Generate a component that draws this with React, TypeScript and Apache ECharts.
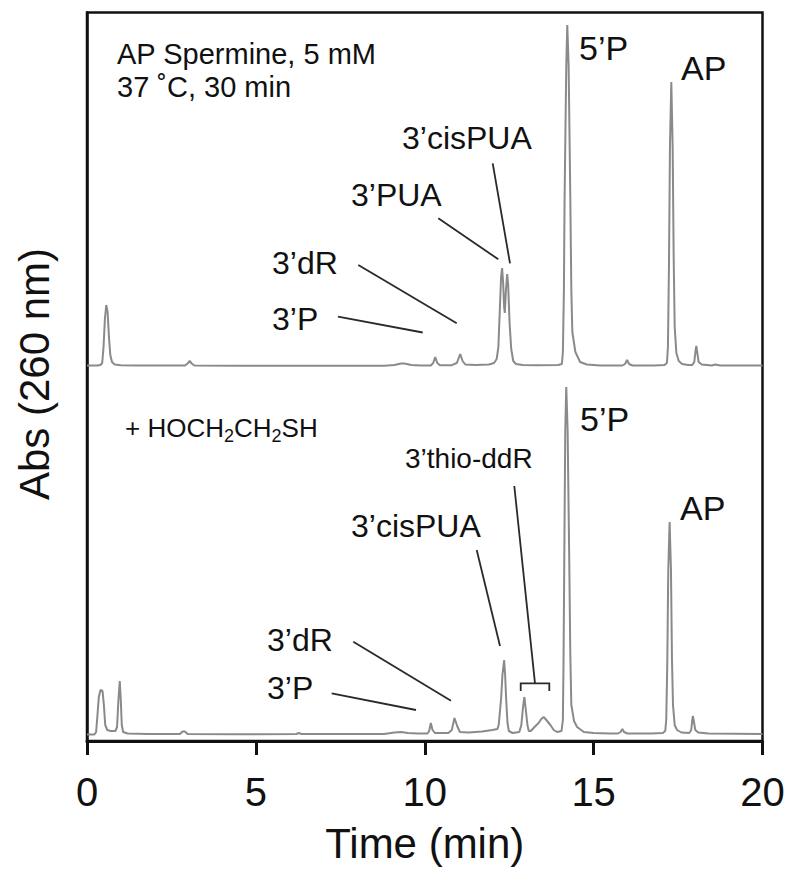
import React, { useEffect, useRef } from "react";
import * as echarts from "echarts";

// Time axis (min)
const timeMin = 0;
const timeMax = 20;
const timeInterval = 5;

// Top chromatogram: AP Spermine, 5 mM, 37 °C, 30 min  [time (min), absorbance (a.u.)]
const topTrace: [number, number][] = [
  [0, 1.5], [0.3, 1.5], [0.4, 2], [0.45, 4], [0.49, 20], [0.53, 48], [0.57, 62], [0.61, 55],
  [0.65, 30], [0.69, 12], [0.74, 5], [0.82, 2.5], [1.0, 1.8], [1.5, 1.5], [2.9, 1.5],
  [2.98, 3.5], [3.04, 6], [3.1, 3.5], [3.18, 1.5], [4.5, 1.2], [6, 1.2], [7.5, 1.2], [8.8, 1.3],
  [9.1, 2], [9.3, 3.5], [9.4, 3.5], [9.6, 2], [9.9, 1.5], [10.18, 1.5], [10.25, 4], [10.31, 10],
  [10.37, 4], [10.45, 1.8], [10.8, 1.8], [10.95, 4], [11.05, 13], [11.12, 6], [11.2, 2.5],
  [11.5, 2], [11.9, 2.5], [12.05, 4], [12.13, 8], [12.18, 20], [12.22, 55], [12.26, 90],
  [12.29, 99], [12.32, 85], [12.35, 60], [12.37, 54], [12.4, 75], [12.44, 93], [12.47, 82],
  [12.51, 45], [12.56, 18], [12.62, 6], [12.7, 3], [12.9, 2], [13.3, 1.8], [13.95, 2],
  [14.06, 3], [14.09, 15], [14.12, 77], [14.14, 168], [14.19, 301], [14.22, 342], [14.26, 301],
  [14.31, 168], [14.34, 77], [14.37, 35], [14.46, 15], [14.6, 5], [14.8, 2.5], [15.2, 1.5],
  [15.85, 1.5], [15.93, 3], [15.99, 7], [16.05, 3], [16.15, 1.5], [16.8, 1.5], [17.1, 2],
  [17.17, 4], [17.2, 20], [17.23, 100], [17.26, 220], [17.3, 285], [17.34, 220], [17.37, 110],
  [17.4, 40], [17.45, 14], [17.52, 6], [17.62, 3], [17.8, 2], [17.92, 2], [17.98, 5],
  [18.02, 17], [18.04, 21], [18.07, 14], [18.11, 5], [18.2, 2.5], [18.5, 1.5], [18.6, 2.5],
  [18.75, 1.5], [20, 1.5],
];

// Bottom chromatogram: + HOCH2CH2SH  [time (min), absorbance (a.u.)]
const bottomTrace: [number, number][] = [
  [0, 0.5], [0.22, 0.5], [0.27, 3], [0.31, 20], [0.35, 38], [0.4, 45], [0.46, 44], [0.5, 30],
  [0.54, 10], [0.6, 5], [0.7, 4], [0.84, 4], [0.89, 8], [0.93, 35], [0.97, 54], [1.0, 35],
  [1.03, 10], [1.07, 3], [1.2, 1.5], [1.8, 1], [2.75, 1], [2.83, 3.5], [2.9, 3.5], [2.98, 1],
  [4.5, 0.8], [6.2, 1], [6.27, 2], [6.35, 1], [8.8, 1], [9.1, 2.5], [9.3, 3], [9.5, 2],
  [9.8, 1.5], [10.08, 1.5], [10.13, 4], [10.18, 12], [10.23, 5], [10.3, 2], [10.7, 2],
  [10.8, 5], [10.88, 17], [10.96, 9], [11.04, 3], [11.3, 2.5], [11.7, 3.5], [12.0, 5],
  [12.15, 6], [12.19, 10], [12.26, 36], [12.3, 60], [12.35, 75], [12.38, 60], [12.41, 36],
  [12.45, 12], [12.49, 4], [12.6, 2], [12.8, 3], [12.86, 10], [12.91, 28], [12.95, 38],
  [12.99, 26], [13.04, 10], [13.08, 4], [13.14, 4], [13.25, 8], [13.37, 12], [13.45, 16],
  [13.52, 18], [13.6, 15], [13.72, 10], [13.82, 5], [13.92, 3], [14.05, 4], [14.09, 15],
  [14.11, 77], [14.13, 170], [14.16, 305], [14.19, 348], [14.23, 305], [14.28, 170],
  [14.31, 80], [14.34, 30], [14.42, 14], [14.51, 8], [14.71, 3], [15.0, 2], [15.5, 1.5],
  [15.72, 1.5], [15.8, 3], [15.85, 6], [15.9, 3], [16.0, 1.5], [16.7, 1.5], [17.05, 2],
  [17.12, 4], [17.15, 15], [17.18, 70], [17.21, 165], [17.25, 213], [17.29, 165], [17.32, 75],
  [17.35, 30], [17.4, 10], [17.47, 5], [17.6, 2.5], [17.83, 2], [17.89, 5], [17.92, 15],
  [17.94, 19], [17.97, 13], [18.01, 5], [18.1, 2.5], [18.4, 1.5], [20, 1],
];

// Panel annotation texts
const topConditions = ["AP Spermine, 5 mM", "37 ˚C, 30 min"];
const topPeakLabels = ["5’P", "AP", "3’cisPUA", "3’PUA", "3’dR", "3’P"];
const bottomPeakLabels = ["5’P", "AP", "3’thio-ddR", "3’cisPUA", "3’dR", "3’P"];
// "+ HOCH₂CH₂SH" as [text, isSubscript] pieces
const bottomCondition: [string, boolean][] = [
  ["+ HOCH", false], ["2", true], ["CH", false], ["2", true], ["SH", false],
];
const xAxisTitle = "Time (min)";
const yAxisTitle = "Abs (260 nm)";

const FONT = '"Liberation Sans", Arial, Helvetica, sans-serif';
const INK = "#111";
const LEAD = "#2a2a2a";
const TRACE = "#8a8a8a";

function txt(text: string, x: number, y: number, size: number, align = "left") {
  return {
    type: "text",
    x,
    y,
    silent: true,
    style: {
      text,
      font: `${size}px ${FONT}`,
      fill: INK,
      textAlign: align,
      textVerticalAlign: "middle",
      align,
      verticalAlign: "middle",
    },
  };
}

function lead(x1: number, y1: number, x2: number, y2: number) {
  return {
    type: "line",
    silent: true,
    shape: { x1, y1, x2, y2 },
    style: { stroke: LEAD, lineWidth: 1.8 },
  };
}

function formulaTexts(pieces: [string, boolean][], x0: number, y: number, size: number, subSize: number, subDrop: number) {
  const canvas = document.createElement("canvas");
  const ctx = canvas.getContext("2d");
  const out: any[] = [];
  let x = x0;
  for (const [s, sub] of pieces) {
    const fs = sub ? subSize : size;
    out.push(txt(s, x, sub ? y + subDrop : y, fs));
    let w = s.length * fs * 0.6;
    if (ctx) {
      ctx.font = `${fs}px ${FONT}`;
      w = ctx.measureText(s).width;
    }
    x += w;
  }
  return out;
}

export default function App() {
  const ref = useRef<HTMLDivElement>(null);

  useEffect(() => {
    document.body.style.margin = "0";
    if (!ref.current) return;
    const chart = echarts.init(ref.current, undefined, { renderer: "svg" });

    const left = 87;
    const right = 26.5;

    const graphic: any[] = [
      // axis title (vertical)
      {
        type: "text",
        x: 34,
        y: 374,
        rotation: Math.PI / 2,
        silent: true,
        style: {
          text: yAxisTitle,
          font: `42px ${FONT}`,
          fill: INK,
          textAlign: "center",
          textVerticalAlign: "middle",
          align: "center",
          verticalAlign: "middle",
        },
      },
      // top panel
      txt(topConditions[0], 117, 54, 29),
      txt(topConditions[1], 117, 87, 29),
      txt(topPeakLabels[0], 579, 47.5, 34),
      txt(topPeakLabels[1], 681, 67.5, 34),
      txt(topPeakLabels[2], 402, 137.5, 32),
      txt(topPeakLabels[3], 351, 195, 32),
      txt(topPeakLabels[4], 272, 263, 32),
      txt(topPeakLabels[5], 272, 319, 32),
      lead(338, 316.7, 422.7, 332.5),
      lead(358.3, 265, 456.7, 323.3),
      lead(438.3, 218.3, 498.3, 259.3),
      lead(492.7, 163.3, 510, 263.3),
      // bottom panel
      ...formulaTexts(bottomCondition, 125, 427.5, 26, 18, 8),
      txt(bottomPeakLabels[0], 580, 419, 34),
      txt(bottomPeakLabels[1], 680, 507.5, 34),
      txt(bottomPeakLabels[2], 405, 458, 28),
      txt(bottomPeakLabels[3], 351, 526, 32),
      txt(bottomPeakLabels[4], 267, 640, 32),
      txt(bottomPeakLabels[5], 267, 688, 32),
      lead(331.7, 693.3, 416, 710),
      lead(353.3, 641.7, 451, 700.7),
      lead(476.7, 550, 500, 646),
      lead(514.3, 486, 535, 683.3),
      {
        type: "polyline",
        silent: true,
        shape: {
          points: [
            [520.7, 691],
            [520.7, 683.3],
            [549.3, 683.3],
            [549.3, 691],
          ],
        },
        style: { stroke: LEAD, lineWidth: 1.8, fill: "none" },
      },
    ];

    const option: any = {
      animation: false,
      backgroundColor: "#fff",
      grid: [
        {
          left,
          right,
          top: 12.5,
          bottom: 127,
          show: true,
          borderColor: INK,
          borderWidth: 2.5,
          backgroundColor: "transparent",
        },
        { left, right, top: 12, height: 355 },
        { left, right, top: 380, height: 355 },
      ],
      xAxis: [
        {
          gridIndex: 0,
          type: "value",
          min: timeMin,
          max: timeMax,
          interval: timeInterval,
          axisLine: { show: true, lineStyle: { color: INK, width: 3 } },
          axisTick: { show: true, inside: false, length: 14, lineStyle: { color: INK, width: 3 } },
          axisLabel: {
            fontSize: 40,
            color: INK,
            fontFamily: FONT,
            margin: 51,
            verticalAlign: "middle",
          },
          splitLine: { show: false },
          name: xAxisTitle,
          nameLocation: "middle",
          nameGap: 102,
          nameTextStyle: { fontSize: 42, color: INK, fontFamily: FONT, verticalAlign: "middle" },
        },
        { gridIndex: 1, type: "value", min: timeMin, max: timeMax, show: false },
        { gridIndex: 2, type: "value", min: timeMin, max: timeMax, show: false },
      ],
      yAxis: [
        {
          gridIndex: 0,
          type: "value",
          min: 0,
          max: 1,
          axisLine: { show: true, lineStyle: { color: INK, width: 2.5 } },
          axisTick: { show: false },
          axisLabel: { show: false },
          splitLine: { show: false },
        },
        { gridIndex: 1, type: "value", min: 0, max: 355, show: false },
        { gridIndex: 2, type: "value", min: 0, max: 355, show: false },
      ],
      series: [
        {
          type: "line",
          xAxisIndex: 1,
          yAxisIndex: 1,
          data: topTrace,
          showSymbol: false,
          symbol: "none",
          lineStyle: { color: TRACE, width: 2 },
          silent: true,
        },
        {
          type: "line",
          xAxisIndex: 2,
          yAxisIndex: 2,
          data: bottomTrace,
          showSymbol: false,
          symbol: "none",
          lineStyle: { color: TRACE, width: 2 },
          silent: true,
        },
      ],
      graphic,
    };

    chart.setOption(option);
    return () => chart.dispose();
  }, []);

  return <div ref={ref} style={{ width: 789, height: 869 }} />;
}
